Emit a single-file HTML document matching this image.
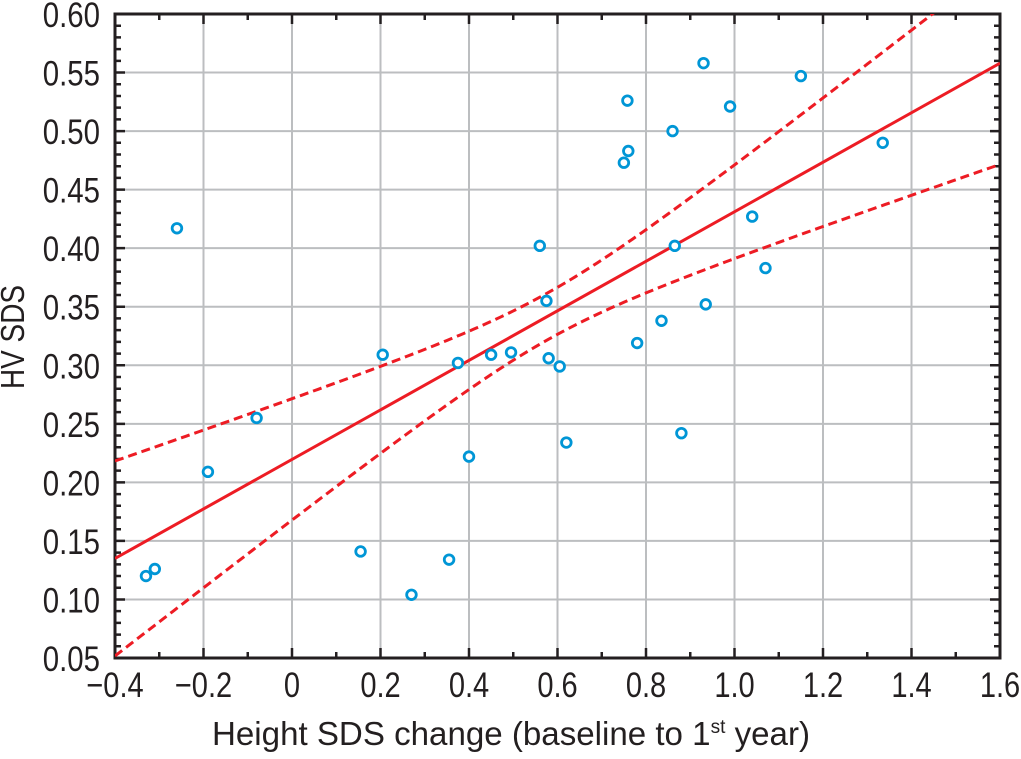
<!DOCTYPE html>
<html><head><meta charset="utf-8"><style>
body{margin:0;background:#fff}
svg text{font-family:"Liberation Sans",sans-serif;fill:#231f20}
</style></head><body>
<svg id="chart" width="1021" height="754" xmlns="http://www.w3.org/2000/svg">
<g id="grid"></g>
<g id="axes"></g>
<g id="lines"></g>
<g id="pts"></g>
<text x="212" y="745" font-size="33" textLength="598" lengthAdjust="spacingAndGlyphs">Height SDS change (baseline to 1<tspan font-size="19" dy="-12">st</tspan><tspan dy="12"> year)</tspan></text>
<text transform="translate(24,337) rotate(-90)" font-size="33" text-anchor="middle" textLength="104" lengthAdjust="spacingAndGlyphs">HV SDS</text>
</svg>
<script>
const xTicks=[-0.4,-0.2,0,0.2,0.4,0.6,0.8,1.0,1.2,1.4,1.6];
const xTickLabels=["\u22120.4","\u22120.2","0","0.2","0.4","0.6","0.8","1.0","1.2","1.4","1.6"];
const yTicks=[0.05,0.10,0.15,0.20,0.25,0.30,0.35,0.40,0.45,0.50,0.55,0.60];
const yTickLabels=["0.05","0.10","0.15","0.20","0.25","0.30","0.35","0.40","0.45","0.50","0.55","0.60"];
const xs=[-0.33,-0.31,-0.26,-0.19,-0.08,0.155,0.205,0.27,0.355,0.375,0.40,0.45,0.495,0.56,0.575,0.58,0.605,0.62,0.75,0.758,0.76,0.78,0.835,0.86,0.865,0.88,0.93,0.935,0.99,1.04,1.07,1.15,1.335];
const ys=[0.120,0.126,0.417,0.209,0.255,0.141,0.309,0.104,0.134,0.302,0.222,0.309,0.311,0.402,0.355,0.306,0.299,0.234,0.473,0.526,0.483,0.319,0.338,0.500,0.402,0.242,0.558,0.352,0.521,0.427,0.383,0.547,0.490];
const fitIntercept=0.2196, fitSlope=0.2115, ciC=0.0004, ciD=0.0068, ciMean=0.58;
const X0=115,X1=1000,Y0=658,Y1=14;
const sx=v=>X0+(v+0.4)/2.0*(X1-X0);
const sy=v=>Y0-(v-0.05)/0.55*(Y0-Y1);
const NS="http://www.w3.org/2000/svg";
function mk(p,t,a){const e=document.createElementNS(NS,t);for(const k in a)e.setAttribute(k,a[k]);p.appendChild(e);return e;}
const grid=document.getElementById('grid'),axes=document.getElementById('axes'),lines=document.getElementById('lines'),pts=document.getElementById('pts');
xTicks.forEach((v,i)=>{
  const l=mk(grid,'line',{x1:sx(v),x2:sx(v),y1:Y1,y2:Y0,stroke:'#bcbec0','stroke-width':2});
  
  
  const t=mk(axes,'text',{transform:`translate(${sx(v)},697) scale(0.83,1)`,'font-size':35,'text-anchor':'middle'});t.textContent=xTickLabels[i];
  
  
});
yTicks.forEach((v,i)=>{
  const l=mk(grid,'line',{x1:X0,x2:X1,y1:sy(v),y2:sy(v),stroke:'#bcbec0','stroke-width':2});
  
  
  const t=mk(axes,'text',{transform:`translate(100,${sy(v)+13}) scale(0.84,1)`,'font-size':35,'text-anchor':'end'});t.textContent=yTickLabels[i];
  
  
});
let d='';
for(let v=-0.4;v<=1.601;v+=0.1){const x=sx(v);const maj=Math.abs(Math.round(v*10))%2===0;const L=maj?10:6;d+=`M${x} ${Y0}v${-L}M${x} ${Y1}v${L}`;}
for(let k=5;k<=60;k++){const y=sy(k/100);const L=k%5===0?10:6;d+=`M${X0} ${y}h${L}M${X1} ${y}h${-L}`;}
const tk=mk(axes,'path',{d:d,stroke:'#231f20','stroke-width':2.5,fill:'none'});


const fr=mk(axes,'rect',{x:X0,y:Y1,width:X1-X0,height:Y0-Y1,fill:'none',stroke:'#231f20','stroke-width':3});


const fit=x=>fitIntercept+fitSlope*x, hw=x=>Math.sqrt(ciC+ciD*(x-ciMean)*(x-ciMean));
let pu='',pl='';
for(let i=0;i<=200;i++){const x=-0.4+i*0.01;pu+=(i?'L':'M')+sx(x)+' '+sy(fit(x)+hw(x));pl+=(i?'L':'M')+sx(x)+' '+sy(fit(x)-hw(x));}
mk(lines,'clipPath',{id:'clp'});
mk(document.getElementById('clp'),'rect',{x:X0,y:Y1,width:X1-X0,height:Y0-Y1});
const fl=mk(lines,'line',{x1:sx(-0.4),y1:sy(fit(-0.4)),x2:sx(1.6),y2:sy(fit(1.6)),stroke:'#ed1c24','stroke-width':3,'clip-path':'url(#clp)'});


const cu=mk(lines,'path',{d:pu,stroke:'#ed1c24','stroke-width':3,fill:'none','stroke-dasharray':'9 5','clip-path':'url(#clp)'});


const cl=mk(lines,'path',{d:pl,stroke:'#ed1c24','stroke-width':3,fill:'none','stroke-dasharray':'9 5','clip-path':'url(#clp)'});


xs.forEach((x,i)=>{
  const c=mk(pts,'circle',{cx:sx(x),cy:sy(ys[i]),r:4.8,fill:'#fff',stroke:'#0096d6','stroke-width':2.8});
  
  
});
</script>
</body></html>
